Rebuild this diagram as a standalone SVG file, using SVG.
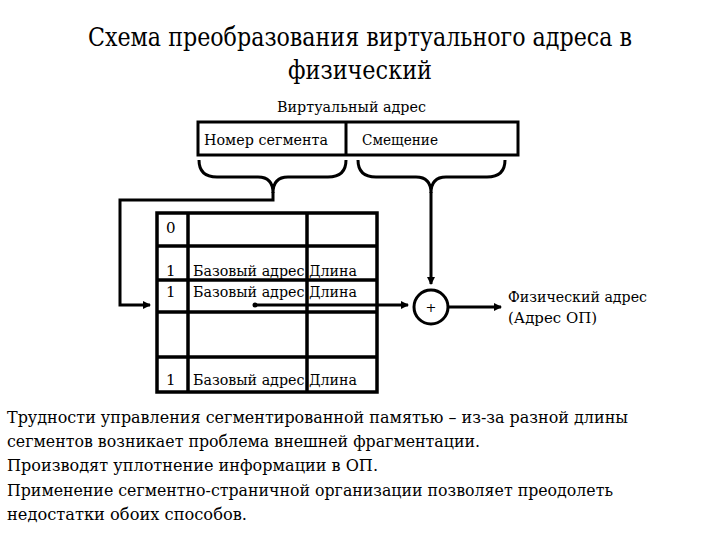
<svg xmlns="http://www.w3.org/2000/svg" width="720" height="540" viewBox="0 0 720 540">
<style>
text{font-family:"DejaVu Serif","Liberation Serif",serif;fill:#000}
.t{font-size:26px}
.m{font-size:15.5px}
.s{font-size:15px}
.b{font-size:16.5px}
.ln{fill:none;stroke:#000;stroke-width:3}
.tb{fill:none;stroke:#000;stroke-width:3.5}
</style>
<defs>
<marker id="ah" markerWidth="8" markerHeight="8" refX="7" refY="4" orient="auto" markerUnits="userSpaceOnUse">
<path d="M0,0 L8,4 L0,8 Z" fill="#000"/>
</marker>
</defs>
<rect width="720" height="540" fill="#fff"/>
<g id="title">
<text class="t" x="88" y="46" textLength="544" lengthAdjust="spacingAndGlyphs">Схема преобразования виртуального адреса в</text>
<text class="t" x="288" y="79" textLength="144" lengthAdjust="spacingAndGlyphs">физический</text>
</g>
<g id="virtual-address">
<text class="m" x="277" y="112" textLength="149" lengthAdjust="spacingAndGlyphs">Виртуальный адрес</text>
<rect class="ln" x="198" y="122" width="320" height="33"/>
<line class="ln" x1="346" y1="122" x2="346" y2="155"/>
<text class="s" x="204" y="145" textLength="124" lengthAdjust="spacingAndGlyphs">Номер сегмента</text>
<text class="s" x="362" y="145" textLength="76" lengthAdjust="spacingAndGlyphs">Смещение</text>
</g>
<g id="brace-segment">
<path class="ln" d="M199,160 Q199,177 217,177 H258 Q273,177 273,193 Q273,177 288,177 H328 Q346,177 346,160"/>
</g>
<g id="brace-offset">
<path class="ln" d="M358,160 Q358,177 376,177 H416 Q431,177 431,193 Q431,177 446,177 H487 Q505,177 505,160"/>
</g>
<g id="segment-table">
<rect class="tb" x="157" y="213" width="220" height="179"/>
<line class="tb" x1="188" y1="213" x2="188" y2="392"/>
<line class="tb" x1="307" y1="213" x2="307" y2="392"/>
<line class="tb" x1="157" y1="246" x2="377" y2="246"/>
<line class="tb" x1="157" y1="280" x2="377" y2="280"/>
<line class="tb" x1="157" y1="312" x2="377" y2="312"/>
<line class="tb" x1="157" y1="357" x2="377" y2="357"/>
<text class="s" x="166" y="233">0</text>
<text class="s" x="166" y="276">1</text>
<text class="s" x="193" y="276" textLength="164" lengthAdjust="spacingAndGlyphs">Базовый адрес Длина</text>
<text class="s" x="166" y="297">1</text>
<text class="s" x="193" y="297" textLength="164" lengthAdjust="spacingAndGlyphs">Базовый адрес Длина</text>
<text class="s" x="166" y="385">1</text>
<text class="s" x="193" y="385" textLength="164" lengthAdjust="spacingAndGlyphs">Базовый адрес Длина</text>
</g>
<g id="adder">
<circle cx="431" cy="307" r="17" fill="#fff" stroke="#000" stroke-width="3"/>
<text x="431" y="312" font-size="13" text-anchor="middle">+</text>
</g>
<g id="physical-address">
<text class="m" x="508" y="302" textLength="139" lengthAdjust="spacingAndGlyphs">Физический адрес</text>
<text class="m" x="508" y="323" textLength="89" lengthAdjust="spacingAndGlyphs">(Адрес ОП)</text>
</g>
<g id="connectors">
<path class="ln" d="M273,192 V200 H120 V305 H150" marker-end="url(#ah)"/>
<circle cx="255" cy="305" r="2.5" fill="#000"/>
<path class="ln" d="M255,305 H408" marker-end="url(#ah)"/>
<path class="ln" d="M431,192 V284" marker-end="url(#ah)"/>
<path class="ln" d="M448,307 H501" marker-end="url(#ah)"/>
</g>
<g id="notes">
<text class="b" x="7" y="423" textLength="621" lengthAdjust="spacingAndGlyphs">Трудности управления сегментированной памятью – из-за разной длины</text>
<text class="b" x="7" y="447" textLength="473" lengthAdjust="spacingAndGlyphs">сегментов возникает проблема внешней фрагментации.</text>
<text class="b" x="7" y="471" textLength="371" lengthAdjust="spacingAndGlyphs">Производят уплотнение информации в ОП.</text>
<text class="b" x="7" y="496" textLength="606" lengthAdjust="spacingAndGlyphs">Применение сегментно-страничной организации позволяет преодолеть</text>
<text class="b" x="7" y="520" textLength="240" lengthAdjust="spacingAndGlyphs">недостатки обоих способов.</text>
</g>
</svg>
